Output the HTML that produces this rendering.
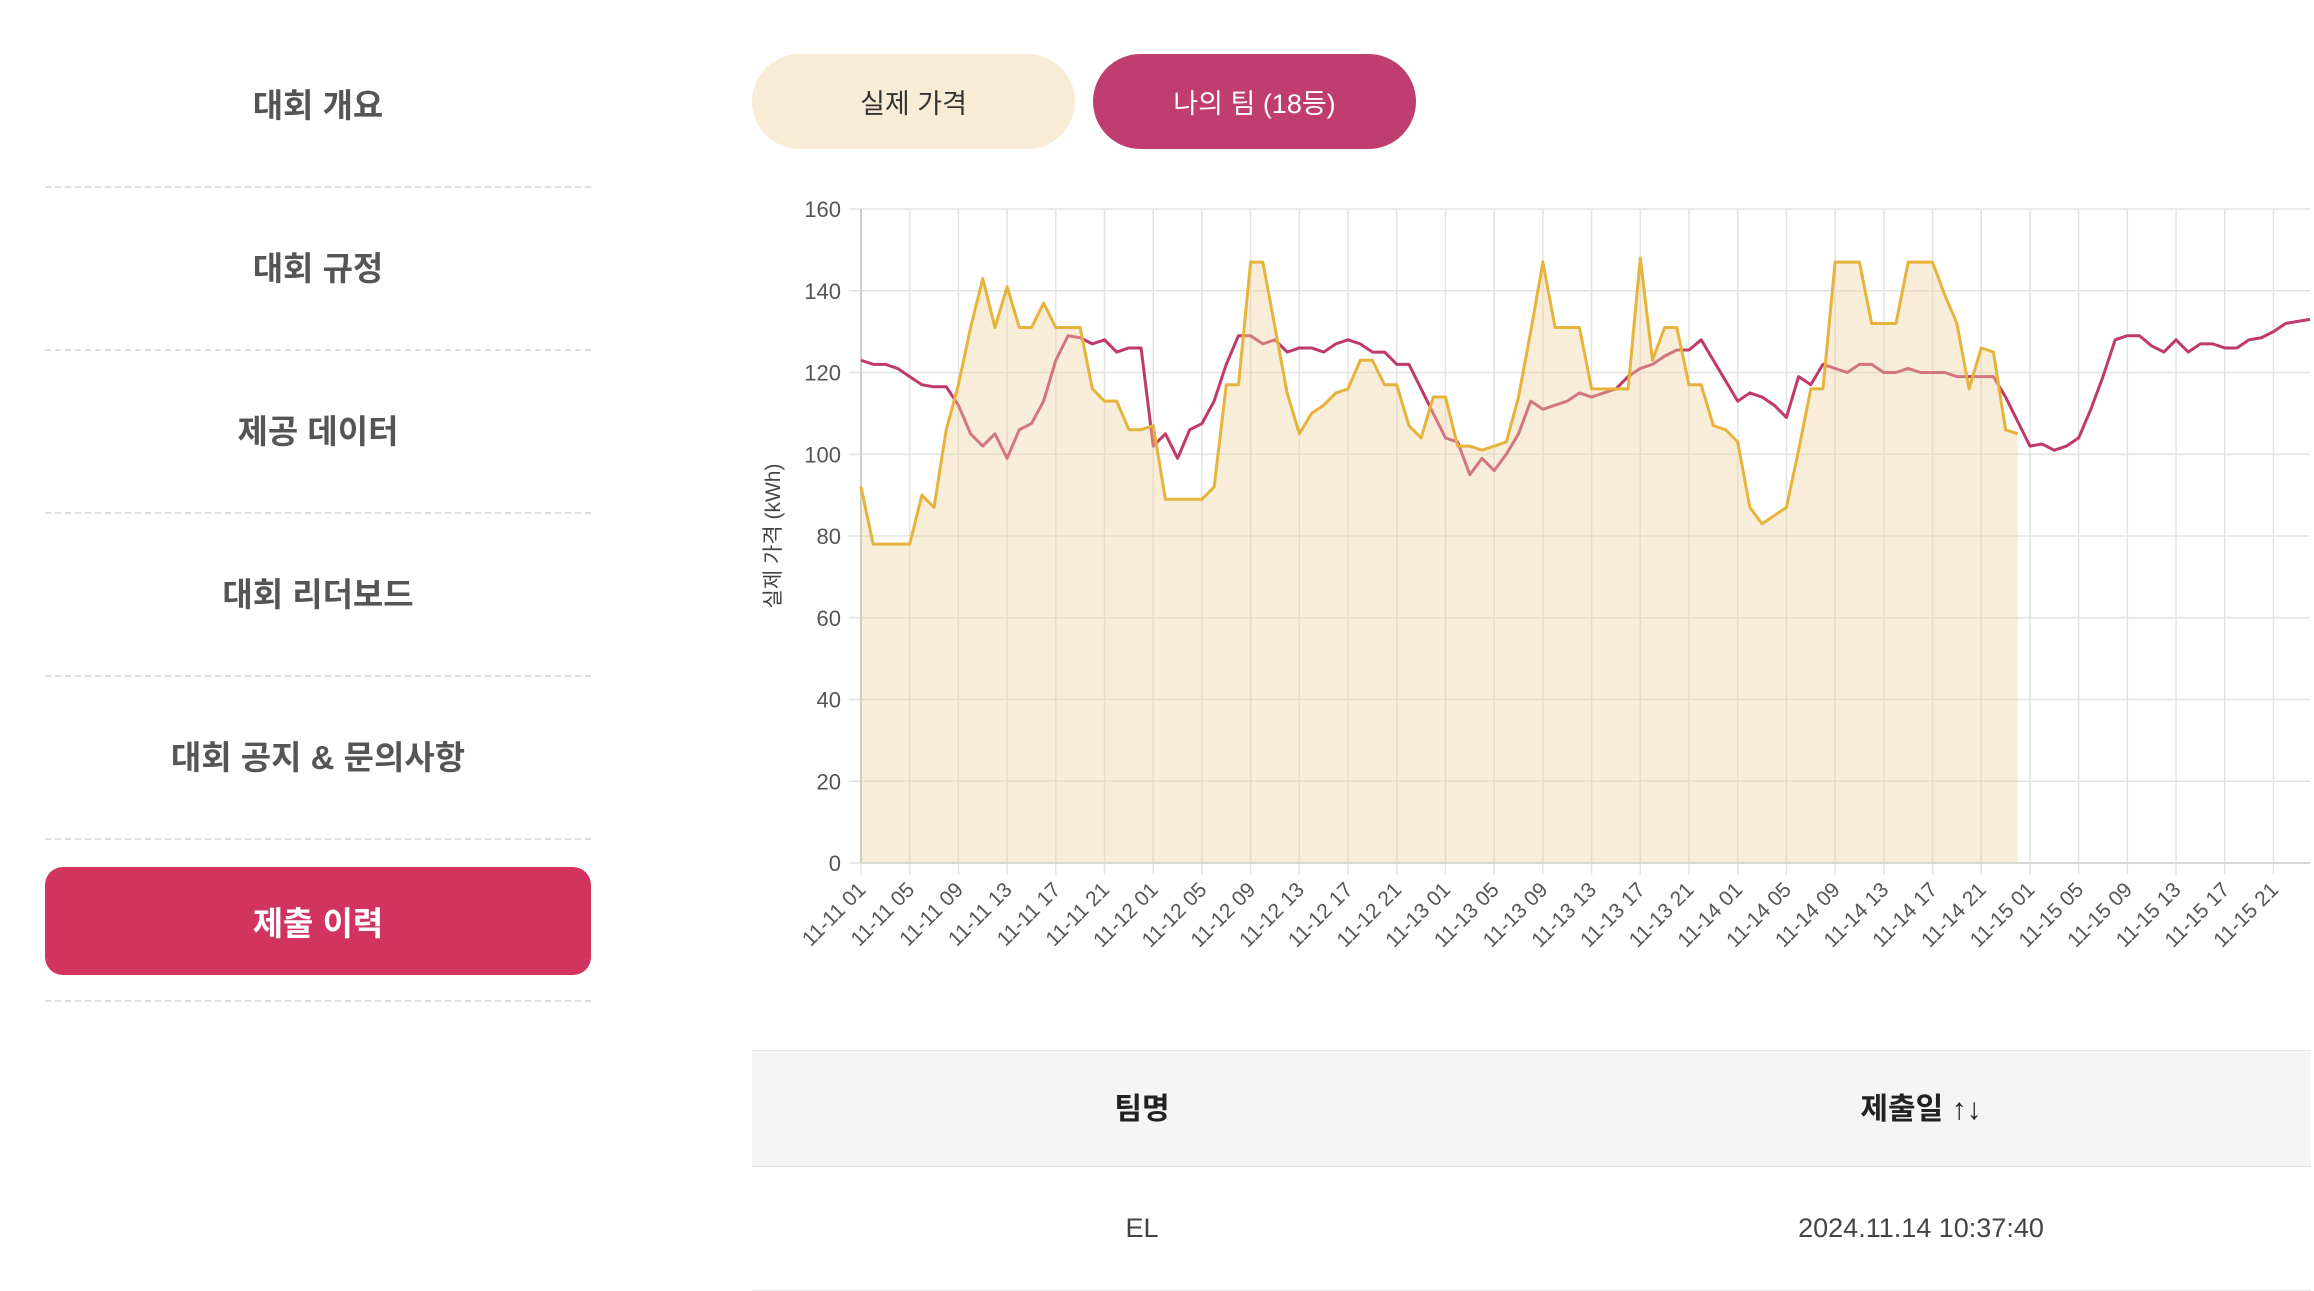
<!DOCTYPE html>
<html><head><meta charset="utf-8">
<style>
html,body{margin:0;padding:0;width:2314px;height:1286px;overflow:hidden;background:#fff;font-family:"Liberation Sans","Noto Sans CJK KR",sans-serif;}
.nav{position:absolute;left:45px;width:546px;text-align:center;font-size:33px;font-weight:bold;color:#555;}
.sep{position:absolute;left:45px;width:546px;border-top:2px dashed #ddd;height:0;}
.pill{position:absolute;top:54px;height:95px;width:323px;border-radius:48px;display:flex;align-items:center;justify-content:center;font-size:27px;}
.th{position:absolute;font-size:30px;font-weight:bold;color:#222;transform:translateX(-50%);}
.td{position:absolute;font-size:27px;color:#444;transform:translateX(-50%);}
</style></head><body>
<div class="nav" style="top:79px">대회 개요</div>
<div class="sep" style="top:186px"></div>
<div class="nav" style="top:242px">대회 규정</div>
<div class="sep" style="top:349px"></div>
<div class="nav" style="top:405px">제공 데이터</div>
<div class="sep" style="top:512px"></div>
<div class="nav" style="top:568px">대회 리더보드</div>
<div class="sep" style="top:675px"></div>
<div class="nav" style="top:731px">대회 공지 &amp; 문의사항</div>
<div class="sep" style="top:838px"></div>
<div style="position:absolute;left:45px;top:867px;width:546px;height:108px;border-radius:18px;background:#d1345f;color:#fff;font-size:33px;font-weight:bold;display:flex;align-items:center;justify-content:center;">제출 이력</div>
<div class="sep" style="top:1000px"></div>

<div class="pill" style="left:752px;background:#f8ecd6;color:#333;">실제 가격</div>
<div class="pill" style="left:1093px;background:#c03d70;color:#fff;">나의 팀 (18등)</div>

<svg id="chart" width="2314" height="1286" style="position:absolute;left:0;top:0" xmlns="http://www.w3.org/2000/svg"></svg>

<div style="position:absolute;left:752px;top:1050px;width:1559px;height:115px;background:#f5f5f5;border-top:1px solid #e4e4e4;border-bottom:1px solid #e4e4e4;"></div>
<div class="th" style="left:1142px;top:1084px">팀명</div>
<div class="th" style="left:1921px;top:1084px">제출일 ↑↓</div>
<div class="td" style="left:1142px;top:1213px">EL</div>
<div class="td" style="left:1921px;top:1213px">2024.11.14 10:37:40</div>
<div style="position:absolute;left:752px;top:1290px;width:1559px;border-top:1px solid #e4e4e4;"></div>

<script>
const actual = [92,78,78,78,78,90,87,106,117,131,
143,131,141,131,131,137,131,131,131,116,
113,113,106,106,107,89,89,89,89,92,
117,117,147,147,131,115,105,110,112,115,
116,123,123,117,117,107,104,114,114,102,
102,101,102,103,114,130,147,131,131,131,
116,116,116,116,148,123,131,131,117,117,
107,106,103,87,83,85,87,101,116,116,
147,147,147,132,132,132,147,147,147,139,
132,116,126,125,106,105];
const predicted = [123,122,122,121,119,117,116.5,116.5,112,105,
102,105,99,106,107.5,113,123,129,128.5,127,
128,125,126,126,102,105,99,106,107.5,113,
122,129,129,127,128,125,126,126,125,127,
128,127,125,125,122,122,116,110,104,103,
95,99,96,100,105,113,111,112,113,115,
114,115,116,119,121,122,124,125.5,125.5,128,
123,118,113,115,114,112,109,119,117,122,
121,120,122,122,120,120,121,120,120,120,
119,119,119,119,114,108,102,102.5,101,102,
104,111,119,128,129,129,126.5,125,128,125,
127,127,126,126,128,128.5,130,132,132.5,133];
const yTicks = [0,20,40,60,80,100,120,140,160];
const days = ['11-11','11-12','11-13','11-14','11-15'];
const categories = [];
for (let i = 0; i < 120; i++) {
  const d = Math.floor((i + 1) / 24), h = (i + 1) % 24;
  categories.push(days[d] + ' ' + String(h).padStart(2, '0'));
}
const NS = 'http://www.w3.org/2000/svg';
const svg = document.getElementById('chart');
const X0 = 861, X1 = 2310, Y0 = 863, Y1 = 209;
const xS = i => X0 + i * (X1 - X0) / (categories.length - 1);
const yS = v => Y0 - (v - 0) / 160 * (Y0 - Y1);
function mk(tag, attrs) { const e = document.createElementNS(NS, tag); for (const k in attrs) e.setAttribute(k, attrs[k]); svg.appendChild(e); return e; }

yTicks.forEach(t => {
  const l = mk('line', {x1: X0 - 12, x2: X1, y1: yS(t), y2: yS(t), stroke: '#e3e3e3', 'stroke-width': 1.5});
  
  
  const tx = mk('text', {x: X0 - 20, y: yS(t) + 8, 'text-anchor': 'end', 'font-size': 22, fill: '#555'});
  tx.textContent = t;
  
  
});
categories.forEach((c, i) => {
  if (i % 4) return;
  const x = xS(i);
  const l = mk('line', {x1: x, x2: x, y1: Y1, y2: Y0 + 12, stroke: '#e3e3e3', 'stroke-width': 1.5});
  
  
  const tx = mk('text', {x: x + 6, y: Y0 + 28, 'text-anchor': 'end', 'font-size': 21, fill: '#555', transform: `rotate(-45 ${x + 6} ${Y0 + 28})`});
  tx.textContent = c;
  
  
});
const axL = mk('line', {x1: X0, x2: X0, y1: Y1, y2: Y0, stroke: '#ccc', 'stroke-width': 2});



const yt = mk('text', {x: 780, y: 536, 'text-anchor': 'middle', 'font-size': 21, fill: '#444', transform: 'rotate(-90 780 536)'});
yt.textContent = '실제 가격 (kWh)';



const pp = predicted.map((v, i) => xS(i) + ',' + yS(v)).join(' ');
const pl = mk('polyline', {points: pp, fill: 'none', stroke: '#c0396d', 'stroke-width': 3, 'stroke-linejoin': 'round'});



const ap = actual.map((v, i) => xS(i) + ',' + yS(v));
const area = mk('polygon', {points: xS(0) + ',' + yS(0) + ' ' + ap.join(' ') + ' ' + xS(actual.length - 1) + ',' + yS(0), fill: 'rgba(237,210,157,0.4)', stroke: 'none'});


const al = mk('polyline', {points: ap.join(' '), fill: 'none', stroke: '#e6b43c', 'stroke-width': 3, 'stroke-linejoin': 'round'});


const axB = mk('line', {x1: X0, x2: X1, y1: Y0, y2: Y0, stroke: '#d8d8d8', 'stroke-width': 2});


</script>
</body></html>
